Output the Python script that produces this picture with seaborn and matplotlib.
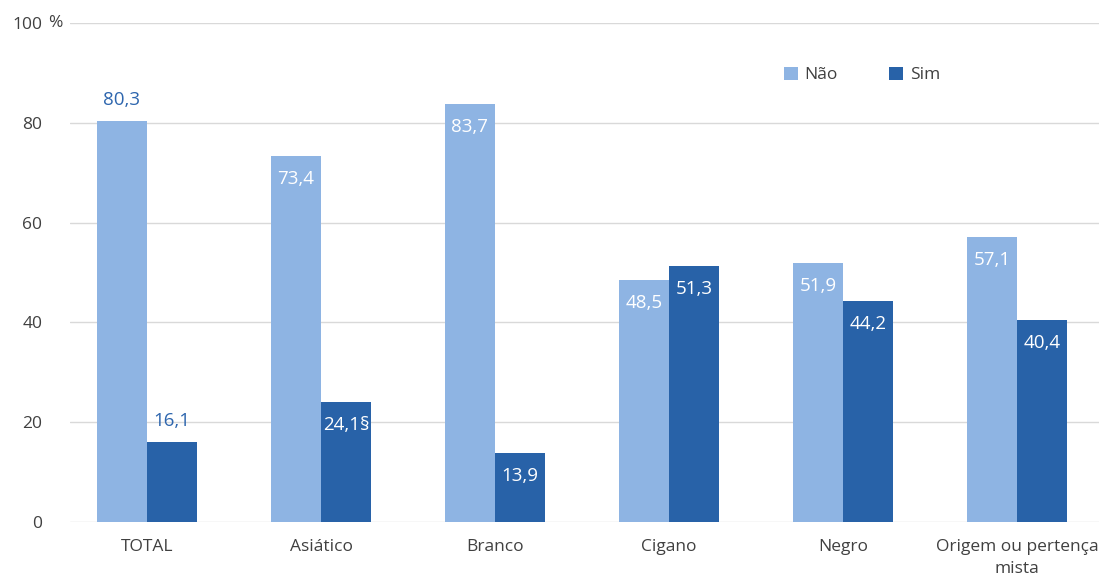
import matplotlib
matplotlib.use("Agg")
import matplotlib.pyplot as plt
import seaborn as sns
import pandas as pd
from matplotlib.patches import Patch

categories = ["TOTAL", "Asiático", "Branco", "Cigano", "Negro", "Origem ou pertença\nmista"]
nao_values = [80.3, 73.4, 83.7, 48.5, 51.9, 57.1]
sim_values = [16.1, 24.1, 13.9, 51.3, 44.2, 40.4]
nao_labels = ["80,3", "73,4", "83,7", "48,5", "51,9", "57,1"]
sim_labels = ["16,1", "24,1§", "13,9", "51,3", "44,2", "40,4"]
series = ["Não", "Sim"]
y_ticks = [0, 20, 40, 60, 80, 100]

LIGHT = "#8EB4E3"
DARK = "#2862A8"
LABEL_BLUE = "#2E66AE"
TEXT = "#404040"
GRID = "#D9D9D9"

sns.set_theme(style="white")
plt.rcParams["font.family"] = ["Open Sans", "DejaVu Sans"]

df = pd.DataFrame({
    "cat": categories * 2,
    "serie": [series[0]] * len(categories) + [series[1]] * len(categories),
    "val": nao_values + sim_values,
})

fig = plt.figure(figsize=(10.99, 5.81), dpi=100)
ax = fig.add_axes([70 / 1099, 1 - 522 / 581, 1 - 70 / 1099, (522 - 23) / 581])

sns.barplot(data=df, x="cat", y="val", hue="serie", order=categories,
            hue_order=series, palette=[LIGHT, DARK], width=0.575, gap=0,
            saturation=1, ax=ax, legend=False, edgecolor="none", linewidth=0)

ax.set_xlim((70 - 147) / 174, (1099 - 147) / 174)
ax.set_ylim(0, 100)
ax.set_yticks(y_ticks)
ax.set_yticklabels([str(v) for v in y_ticks])
ax.set_xticks(range(len(categories)))
ax.set_xticklabels(categories, linespacing=1.55)
ax.yaxis.grid(True, color=GRID, linewidth=1)
ax.set_axisbelow(True)
for s in ax.spines.values():
    s.set_visible(False)
ax.tick_params(axis="y", length=0, pad=20, labelsize=12.5, labelcolor=TEXT)
ax.tick_params(axis="x", length=0, pad=12, labelsize=12.5, labelcolor=TEXT)
ax.set_xlabel("")
ax.set_ylabel("")
fig.text(48 / 1099, 1 - 23 / 581, "%", ha="left", va="center", fontsize=12.5, color=TEXT)

label_sets = [nao_labels, sim_labels]
for ci, cont in enumerate(ax.containers):
    for i, bar in enumerate(cont):
        x = bar.get_x() + bar.get_width() / 2
        h = bar.get_height()
        if i == 0:
            ax.annotate(label_sets[ci][i], (x, h), xytext=(0, 15), textcoords="offset points",
                        ha="center", va="center", fontsize=13.5, color=LABEL_BLUE)
        else:
            ax.annotate(label_sets[ci][i], (x, h), xytext=(0, -16.5), textcoords="offset points",
                        ha="center", va="center", fontsize=13.5, color="white")

handles = [Patch(facecolor=LIGHT, edgecolor="none"), Patch(facecolor=DARK, edgecolor="none")]
fig.legend(handles, series, loc="center", bbox_to_anchor=(862 / 1099, 1 - 75 / 581), ncol=2,
           frameon=False, handlelength=0.8, handleheight=0.8, handletextpad=0.4,
           columnspacing=2.95, fontsize=12.5, labelcolor=TEXT)

fig.savefig("out.png", dpi=100)
